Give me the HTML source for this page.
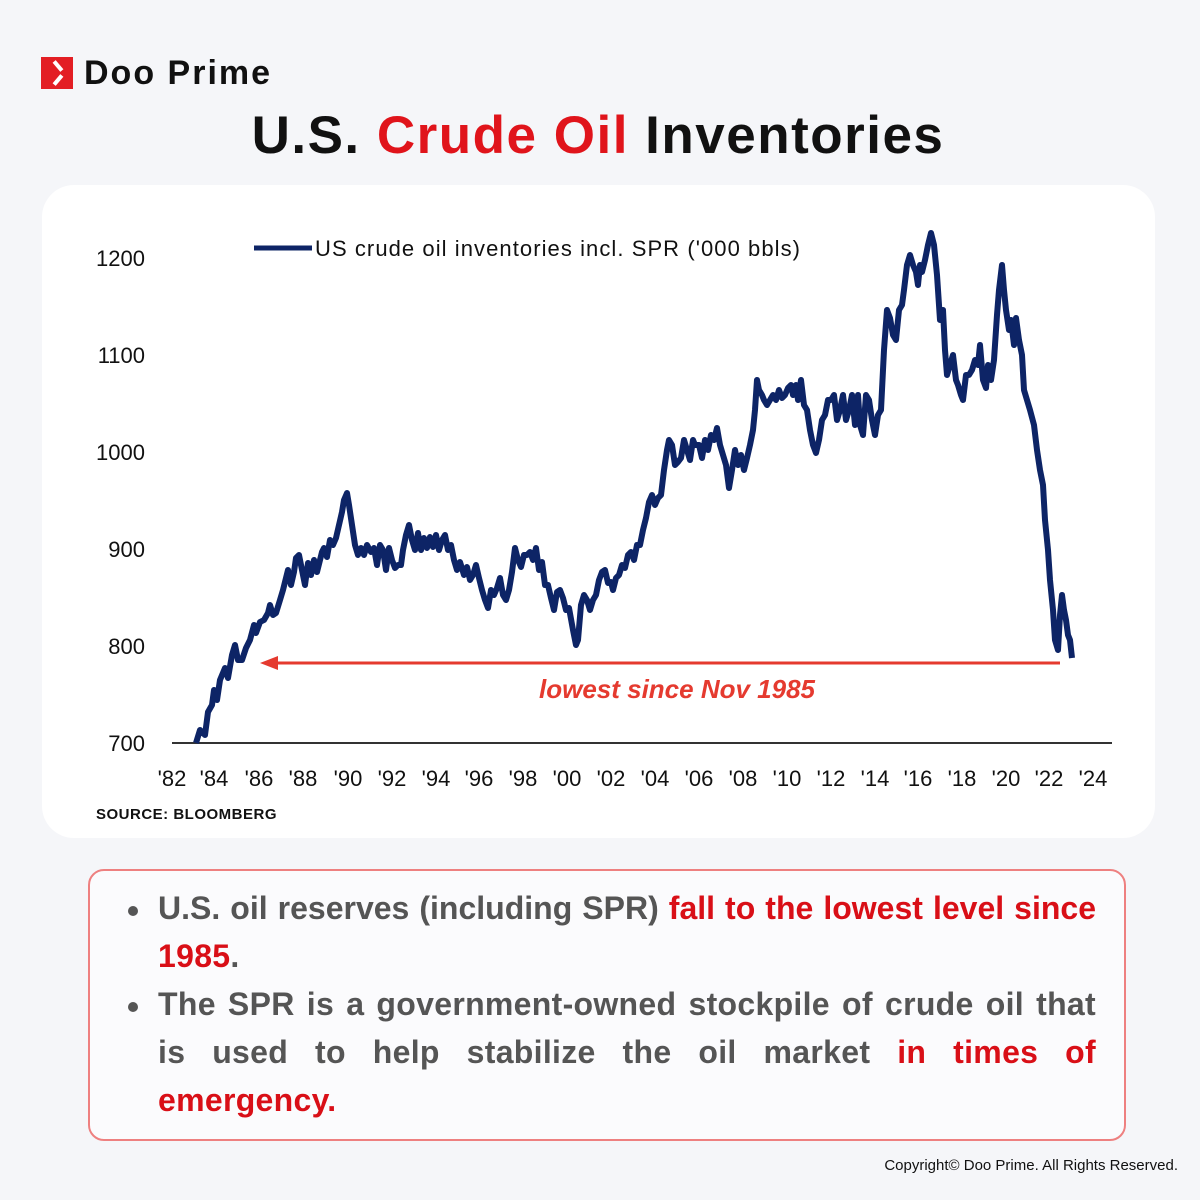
<!DOCTYPE html>
<html><head><meta charset="utf-8"><style>
*{margin:0;padding:0;box-sizing:border-box}
body{width:1200px;height:1200px;position:relative;background:#f5f6f9;font-family:"Liberation Sans",sans-serif;overflow:hidden}
.abs{position:absolute}
.card{left:42px;top:185px;width:1113px;height:653px;background:#fff;border-radius:32px}
.box{left:88px;top:869px;width:1038px;height:272px;border:2.5px solid #ee8080;border-radius:16px;background:rgba(255,255,255,0.6)}
.ln{position:absolute;left:158px;width:938px;font-size:32px;font-weight:bold;color:#555;white-space:nowrap;letter-spacing:0.3px}
.j{text-align:justify;text-align-last:justify;white-space:normal}
.r{color:#d90f17}
.dot{position:absolute;left:128px;width:10px;height:10px;border-radius:50%;background:#555}
</style></head><body>
<div class="abs" style="left:41px;top:57px;width:32px;height:32px;background:#e31e24"></div>
<div class="abs" style="left:56px;top:60px;width:4px;height:12px;background:#fff;transform:rotate(-40deg)"></div>
<div class="abs" style="left:56px;top:74px;width:4px;height:12px;background:#fff;transform:rotate(40deg)"></div>
<div class="abs" style="left:84px;top:54px;font-size:34px;font-weight:bold;color:#111;letter-spacing:2px">Doo Prime</div>
<div class="abs" style="left:0;width:1196px;top:105px;text-align:center;font-size:53px;font-weight:bold;color:#111;letter-spacing:1.5px">U.S. <span style="color:#e0141b">Crude Oil</span> Inventories</div>
<div class="abs card"></div>
<svg class="abs" style="left:0;top:0" width="1200" height="1200">
<g font-family="Liberation Sans, sans-serif" font-size="22" fill="#111" text-anchor="end">
<text x="145" y="266">1200</text><text x="145" y="363">1100</text><text x="145" y="460">1000</text><text x="145" y="557">900</text><text x="145" y="654">800</text><text x="145" y="751">700</text>
</g>
<g font-family="Liberation Sans, sans-serif" font-size="22" fill="#111" text-anchor="middle">
<text x="172" y="786">'82</text><text x="214" y="786">'84</text><text x="259" y="786">'86</text><text x="303" y="786">'88</text><text x="348" y="786">'90</text><text x="392" y="786">'92</text><text x="436" y="786">'94</text><text x="479" y="786">'96</text><text x="523" y="786">'98</text><text x="567" y="786">'00</text><text x="611" y="786">'02</text><text x="655" y="786">'04</text><text x="699" y="786">'06</text><text x="743" y="786">'08</text><text x="787" y="786">'10</text><text x="831" y="786">'12</text><text x="875" y="786">'14</text><text x="918" y="786">'16</text><text x="962" y="786">'18</text><text x="1006" y="786">'20</text><text x="1049" y="786">'22</text><text x="1093" y="786">'24</text>
</g>
<line x1="172" y1="743" x2="1112" y2="743" stroke="#333" stroke-width="2"/>
<line x1="254" y1="248" x2="312" y2="248" stroke="#0d2466" stroke-width="5"/>
<text x="315" y="256" font-family="Liberation Sans, sans-serif" font-size="22" fill="#111" textLength="485">US crude oil inventories incl. SPR ('000 bbls)</text>
<line x1="275" y1="663" x2="1060" y2="663" stroke="#e53a2f" stroke-width="3"/>
<polygon points="260,663 278,656 278,670" fill="#e53a2f"/>
<text x="677" y="698" text-anchor="middle" font-family="Liberation Sans, sans-serif" font-size="26" font-weight="bold" font-style="italic" fill="#e53a2f">lowest since Nov 1985</text>
<polyline fill="none" stroke="#0d2466" stroke-width="6" stroke-linejoin="round" points="196,743 200,730 205,735 208,712 212,705 214,690 217,700 220,680 225,668 228,678 232,655 235,645 238,660 242,660 246,648 250,640 254,625 256,633 260,622 264,620 268,613 270,605 273,615 276,613 280,600 283,590 286,578 288,570 291,585 294,572 296,558 299,555 302,570 305,585 308,563 311,575 314,560 317,572 320,560 322,552 324,548 327,557 330,540 333,545 336,538 339,525 342,512 344,500 347,493 349,505 352,525 355,545 358,555 361,548 364,555 367,545 371,552 374,548 377,565 380,545 383,550 386,570 389,548 392,560 395,568 398,565 401,565 403,550 406,535 409,525 412,540 415,550 418,533 421,550 424,538 427,548 430,537 433,547 436,535 439,550 442,540 445,535 448,550 451,545 454,560 457,570 460,562 464,575 467,567 470,580 473,575 476,565 479,578 482,590 485,600 488,608 491,590 494,595 497,588 500,578 503,595 506,600 509,590 512,572 515,548 518,560 521,567 524,555 527,555 530,552 533,560 536,548 539,570 542,562 545,585 548,585 551,598 554,610 557,592 560,590 563,598 566,610 569,608 573,630 576,645 578,640 581,605 584,595 587,600 590,610 593,600 596,595 599,580 602,572 605,570 608,583 611,582 613,590 616,578 619,575 622,565 625,568 628,555 631,552 634,560 637,545 640,545 643,530 646,518 649,502 652,495 655,505 658,498 661,495 664,470 667,450 669,440 672,445 675,465 678,462 681,458 684,440 687,450 690,460 693,440 695,445 699,445 702,458 705,440 708,450 711,435 714,440 717,428 720,445 723,455 726,465 729,488 732,470 735,450 738,465 741,455 744,470 747,458 750,445 753,430 755,410 757,380 759,390 762,395 764,400 767,405 770,400 773,395 776,400 779,390 782,398 785,395 788,388 791,385 793,395 796,385 798,400 801,380 804,405 807,410 810,430 813,445 816,453 819,440 822,420 825,415 828,400 831,400 834,395 837,420 840,410 843,395 846,420 849,410 852,395 855,425 858,395 860,425 863,435 866,395 869,400 872,420 875,435 878,415 881,410 884,350 887,310 890,318 893,335 896,340 899,310 902,305 904,290 907,265 910,255 913,265 916,272 918,285 920,265 922,272 925,260 928,245 931,233 934,245 937,275 940,320 943,310 945,350 947,375 950,365 953,355 956,380 958,385 961,395 963,400 966,375 969,375 972,370 975,360 978,365 980,345 983,380 986,388 988,365 991,380 994,360 997,315 999,290 1002,265 1004,290 1006,310 1009,330 1011,320 1014,345 1016,318 1019,340 1022,355 1024,390 1027,400 1030,410 1034,425 1037,450 1040,470 1043,485 1045,520 1048,550 1050,580 1053,610 1055,640 1058,650 1060,615 1062,595 1064,610 1066,620 1068,635 1070,640 1072,658"/>
<text x="96" y="819" font-family="Liberation Sans, sans-serif" font-size="15" font-weight="bold" fill="#111" letter-spacing="0.5">SOURCE: BLOOMBERG</text>
</svg>
<div class="abs box"></div>
<div class="dot" style="top:906px"></div>
<div class="ln j" style="top:890px;height:42px;overflow:hidden;letter-spacing:0">U.S. oil reserves (including SPR) <span class="r">fall to the lowest level since</span></div>
<div class="ln" style="top:938px"><span class="r">1985</span>.</div>
<div class="dot" style="top:1002px"></div>
<div class="ln j" style="top:986px;height:42px;overflow:hidden">The SPR is a government-owned stockpile of crude oil that</div>
<div class="ln j" style="top:1034px;height:42px;overflow:hidden">is used to help stabilize the oil market <span class="r">in times of</span></div>
<div class="ln r" style="top:1082px">emergency.</div>
<div class="abs" style="right:22px;top:1157px;font-size:15px;color:#111">Copyright© Doo Prime. All Rights Reserved.</div>
</body></html>
